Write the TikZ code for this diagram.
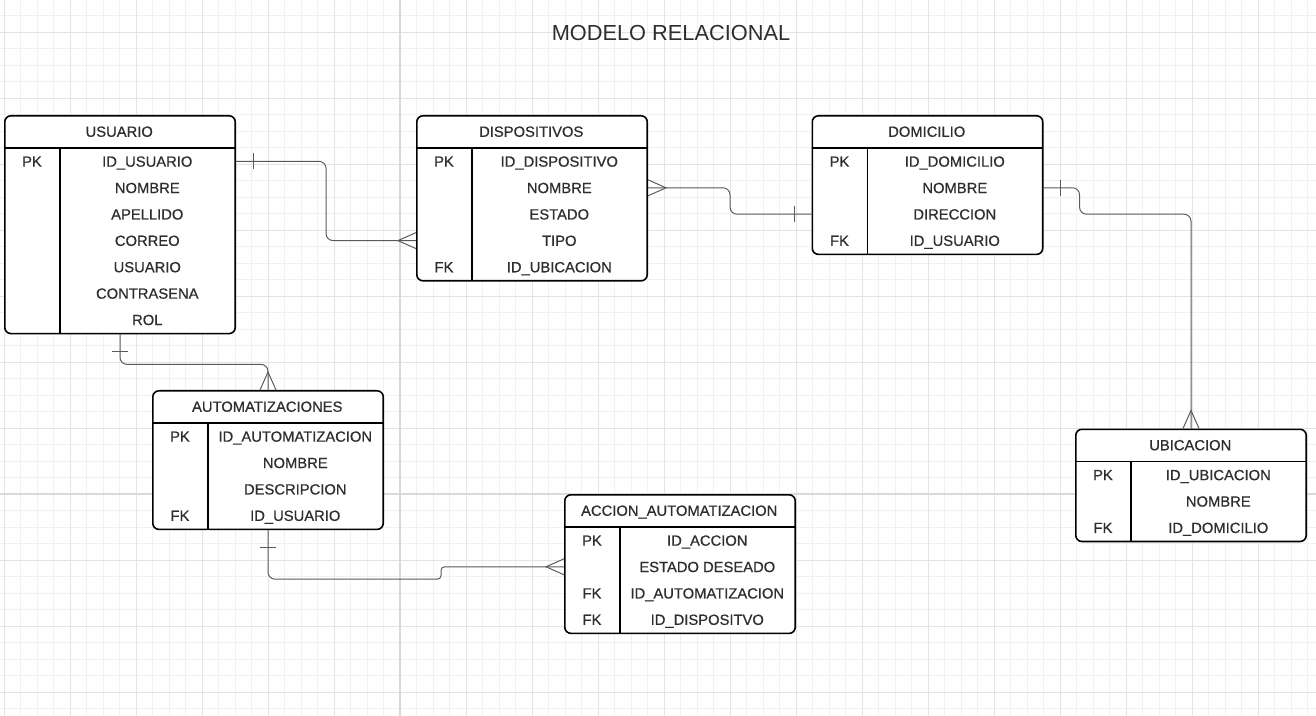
\documentclass[tikz,border=0pt]{standalone}
\usepackage{fontspec}
\setmainfont{Liberation Sans}
\newfontfamily\cellfont{Liberation Sans}[FakeBold=0.6]

\definecolor{ink}{HTML}{2E2E2E}
\definecolor{wire}{HTML}{595959}
\definecolor{gridlo}{HTML}{F1F1F1}
\definecolor{gridhi}{HTML}{E4E4E4}
\definecolor{gridpage}{HTML}{D9D9D9}

\tikzset{
  tblbox/.style={draw=black, fill=white, line width=0.9pt, rounded corners=3.5pt,
    minimum width=4.61cm, inner sep=0pt, anchor=north west},
  tblline/.style={draw=black, line width=0.9pt},
  cell/.style={font=\cellfont\fontsize{8.4}{10}\selectfont, text=ink, inner sep=0pt,
    text height=6pt, text depth=0pt},
  conn/.style={draw=wire, line width=0.55pt, rounded corners=4pt},
  one/.pic={\draw[conn, sharp corners] (17,-8) -- (17,8);},
  many/.pic={\draw[conn, sharp corners] (0,-8) -- (18,0) -- (0,8);}
}

% table: name, x, y, title, rows, key/field list
\newcommand{\ertable}[6]{%
  \node[tblbox, minimum height={(33+#5*26.4)*0.02cm}] (#1) at (#2,#3) {};
  \node[cell] (#1-t) at ({#2+115.25},{#3+16.5}) {#4};
  \draw[tblline] (#1.north west) ++(0,33) -- ++(230.5,0);
  \draw[tblline] (#1.north west) ++(56,33) -- ++(0,{#5*26.4});
  \foreach \k/\f [count=\i] in {#6} {
    \node[cell] (#1-k\i) at ({#2+28},{#3+20+\i*26.4}) {\k};
    \node[cell] (#1-f\i) at ({#2+143.3},{#3+20+\i*26.4}) {\f};
  }
}

\begin{document}
\begin{tikzpicture}[x=0.02cm, y=-0.02cm]
  \useasboundingbox (0,0) rectangle (1316,716);
  \fill[white] (0,0) rectangle (1316,716);

  % grid
  \foreach \gx in {4,20.5,...,1316} \draw[gridlo, line width=0.35pt] (\gx,0) -- (\gx,716);
  \foreach \gy in {-1,15.5,...,716} \draw[gridlo, line width=0.35pt] (0,\gy) -- (1316,\gy);
  \foreach \gx in {4,70,...,1316} \draw[gridhi, line width=0.45pt] (\gx,0) -- (\gx,716);
  \foreach \gy in {32,98,...,716} \draw[gridhi, line width=0.45pt] (0,\gy) -- (1316,\gy);
  \draw[gridpage, line width=0.9pt] (400,0) -- (400,716);
  \draw[gridpage, line width=0.9pt] (0,494) -- (1316,494);

  \node[font=\fontsize{12.4}{14}\selectfont, text=ink, inner sep=0pt,
    text height=8.9pt, text depth=0pt] (title) at (671,33) {MODELO RELACIONAL};

  \ertable{usu}{4}{115}{USUARIO}{7}{PK/ID\_USUARIO, /NOMBRE, /APELLIDO, /CORREO, /USUARIO, /CONTRASENA, /ROL}
  \ertable{disp}{416}{115}{DISPOSITIVOS}{5}{PK/ID\_DISPOSITIVO, /NOMBRE, /ESTADO, /TIPO, FK/ID\_UBICACION}
  \ertable{dom}{811.5}{115}{DOMICILIO}{4}{PK/ID\_DOMICILIO, /NOMBRE, /DIRECCION, FK/ID\_USUARIO}
  \ertable{auto}{152}{390}{AUTOMATIZACIONES}{4}{PK/ID\_AUTOMATIZACION, /NOMBRE, /DESCRIPCION, FK/ID\_USUARIO}
  \ertable{acc}{564}{494}{ACCION\_AUTOMATIZACION}{4}{PK/ID\_ACCION, /ESTADO DESEADO, FK/ID\_AUTOMATIZACION, FK/ID\_DISPOSITVO}
  \ertable{ubi}{1075}{428.5}{UBICACION}{3}{PK/ID\_UBICACION, /NOMBRE, FK/ID\_DOMICILIO}

  % relations
  \draw[conn] (usu-f1 -| usu.east) -- ++(90,0) |- (disp-f4 -| disp.west);
  \pic at (usu-f1 -| usu.east) {one};
  \pic[rotate=180] at (disp-f4 -| disp.west) {many};

  \draw[conn] (disp-f2 -| disp.east) -- ++(82,0) |- (dom-f3 -| dom.west);
  \pic at (disp-f2 -| disp.east) {many};
  \pic[rotate=180] at (dom-f3 -| dom.west) {one};

  \draw[conn] (dom-f2 -| dom.east) -- ++(36,0) |- (dom-f3 -| ubi.north) -- (ubi.north);
  \pic at (dom-f2 -| dom.east) {one};
  \pic[rotate=90] at (ubi.north) {many};

  \draw[conn] (usu.south) -- ++(0,30) -| (auto.north);
  \pic[rotate=-90] at (usu.south) {one};
  \pic[rotate=90] at (auto.north) {many};

  \draw[conn] (auto.south) -- ++(0,49) [rounded corners=2pt] -- ++(173,0) |- (acc-f2 -| acc.west);
  \pic[rotate=-90] at (auto.south) {one};
  \pic[rotate=180] at (acc-f2 -| acc.west) {many};
\end{tikzpicture}
\end{document}
